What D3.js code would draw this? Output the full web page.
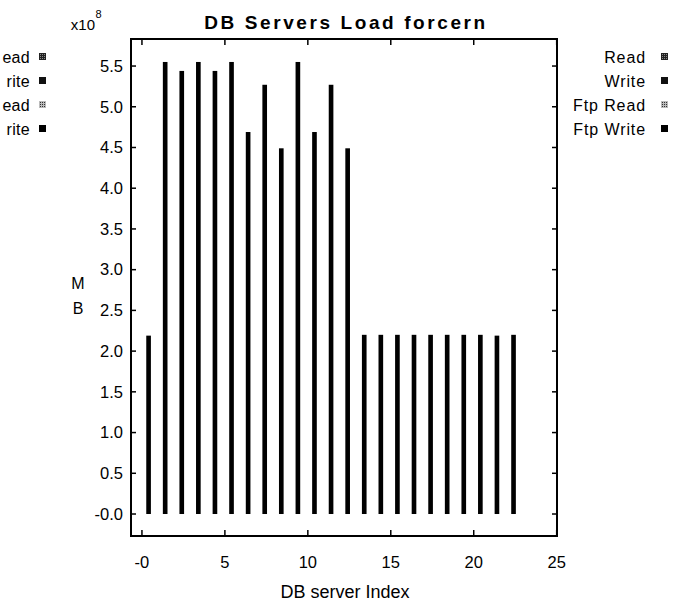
<!DOCTYPE html>
<html>
<head>
<meta charset="utf-8">
<script src="https://cdn.jsdelivr.net/npm/d3@7"></script>
<style>
html,body{margin:0;padding:0;background:#fff;}
svg{display:block;}
text{font-family:"Liberation Sans",Arial,sans-serif;fill:#000;}
</style>
</head>
<body>
<svg id="chart" width="673" height="610"></svg>
<script>
// ---- data ----
const serverIndex = d3.range(0, 23);
const readLoad = [2.19, 5.55, 5.44, 5.55, 5.44, 5.55, 4.69, 5.27, 4.49, 5.55, 4.69, 5.27, 4.49,
                  2.2, 2.2, 2.2, 2.2, 2.2, 2.2, 2.2, 2.2, 2.19, 2.2];
const xTicks = [0, 5, 10, 15, 20, 25];
const xTickLabels = ["-0", "5", "10", "15", "20", "25"];
const yTicks = [0, 0.5, 1, 1.5, 2, 2.5, 3, 3.5, 4, 4.5, 5, 5.5];
const yTickLabels = ["-0.0", "0.5", "1.0", "1.5", "2.0", "2.5", "3.0", "3.5", "4.0", "4.5", "5.0", "5.5"];
const legendLabels = ["Read", "Write", "Ftp Read", "Ftp Write"];
// the left-hand copy of the legend is cut by the page edge: only these parts are visible
const legendLabelsLeftVisible = ["ead", "rite", "ead", "rite"];
const titleText = "DB Servers Load forcern";
const xLabelText = "DB server Index";
const yLabelChars = ["M", "B"];

// ---- layout ----
const svg = d3.select("#chart");
const L = 131, R = 557, T = 39, B = 536;
const x = d3.scaleLinear().domain([-0.66, 25.02]).range([L, R]);
const y = d3.scaleLinear().domain([-0.27, 5.832]).range([B, T]);

// patterns for legend markers
const defs = svg.append("defs");
const p1 = defs.append("pattern").attr("id", "pRead").attr("patternUnits", "userSpaceOnUse")
  .attr("width", 2).attr("height", 2);
p1.append("rect").attr("width", 2).attr("height", 2).attr("fill", "#222");
p1.append("rect").attr("width", 1).attr("height", 1).attr("fill", "#888");
const p2 = defs.append("pattern").attr("id", "pFtpRead").attr("patternUnits", "userSpaceOnUse")
  .attr("width", 2).attr("height", 2);
p2.append("rect").attr("width", 2).attr("height", 2).attr("fill", "#bbb");
p2.append("rect").attr("width", 1).attr("height", 1).attr("fill", "#333");
const markerFills = ["url(#pRead)", "#111", "url(#pFtpRead)", "#000"];

// bars
const barW = x(0.28) - x(0);
svg.append("g").selectAll("rect").data(serverIndex).join("rect")
  .attr("x", i => x(i + 0.4) - barW / 2)
  .attr("y", i => y(readLoad[i]))
  .attr("width", barW)
  .attr("height", i => y(0) - y(readLoad[i]))
  .attr("fill", "#000");

// frame
svg.append("rect").attr("x", L).attr("y", T).attr("width", R - L).attr("height", B - T)
  .attr("fill", "none").attr("stroke", "#000").attr("stroke-width", 2);

// axes ticks (inward)
const tickLen = 5;
const gAx = svg.append("g").attr("stroke", "#000").attr("stroke-width", 1.5);
yTicks.forEach(v => {
  gAx.append("line").attr("x1", L).attr("x2", L + tickLen).attr("y1", y(v)).attr("y2", y(v));
  gAx.append("line").attr("x1", R).attr("x2", R - tickLen).attr("y1", y(v)).attr("y2", y(v));
});
xTicks.forEach(v => {
  gAx.append("line").attr("x1", x(v)).attr("x2", x(v)).attr("y1", B).attr("y2", B - 6);
  gAx.append("line").attr("x1", x(v)).attr("x2", x(v)).attr("y1", T).attr("y2", T + 6);
});

// tick labels
svg.append("g").selectAll("text").data(yTicks).join("text")
  .attr("x", 123).attr("y", d => y(d)).attr("dy", "0.35em")
  .attr("text-anchor", "end").attr("font-size", 16.5)
  .text((d, i) => yTickLabels[i]);
svg.append("g").selectAll("text").data(xTicks).join("text")
  .attr("x", d => x(d)).attr("y", 562).attr("dy", "0.35em")
  .attr("text-anchor", "middle").attr("font-size", 16.5)
  .text((d, i) => xTickLabels[i]);

// exponent
svg.append("text").attr("x", 95).attr("y", 30).attr("text-anchor", "end").attr("font-size", 15).text("x10");
svg.append("text").attr("x", 95.5).attr("y", 18).attr("font-size", 11).text("8");

// title
svg.append("text").attr("x", 346).attr("y", 29).attr("text-anchor", "middle")
  .attr("font-family", "DejaVu Sans").attr("font-weight", "bold").attr("font-size", 19)
  .attr("letter-spacing", 2.6)
  .text(titleText);

// axis labels
svg.append("text").attr("x", 345).attr("y", 592).attr("dy", "0.35em").attr("text-anchor", "middle")
  .attr("font-size", 18).text(xLabelText);
yLabelChars.forEach((c, i) => {
  svg.append("text").attr("x", 78).attr("y", 283 + i * 25).attr("dy", "0.35em")
    .attr("text-anchor", "middle").attr("font-size", 16).text(c);
});

// legends (right, and a cut duplicate on the left)
function legend(labels, textEnd, markerX, spacing) {
  const g = svg.append("g");
  labels.forEach((lab, i) => {
    const cy = 57 + i * 24;
    g.append("text").attr("x", textEnd).attr("y", cy).attr("dy", "0.35em")
      .attr("text-anchor", "end").attr("font-size", 16).attr("letter-spacing", spacing).text(lab);
    g.append("rect").attr("x", markerX).attr("y", cy - 4).attr("width", 7).attr("height", 7)
      .attr("fill", markerFills[i]);
  });
}
legend(legendLabels, 646, 661, 0.9);
legend(legendLabelsLeftVisible, 30, 39, 0.3);
</script>
</body>
</html>
